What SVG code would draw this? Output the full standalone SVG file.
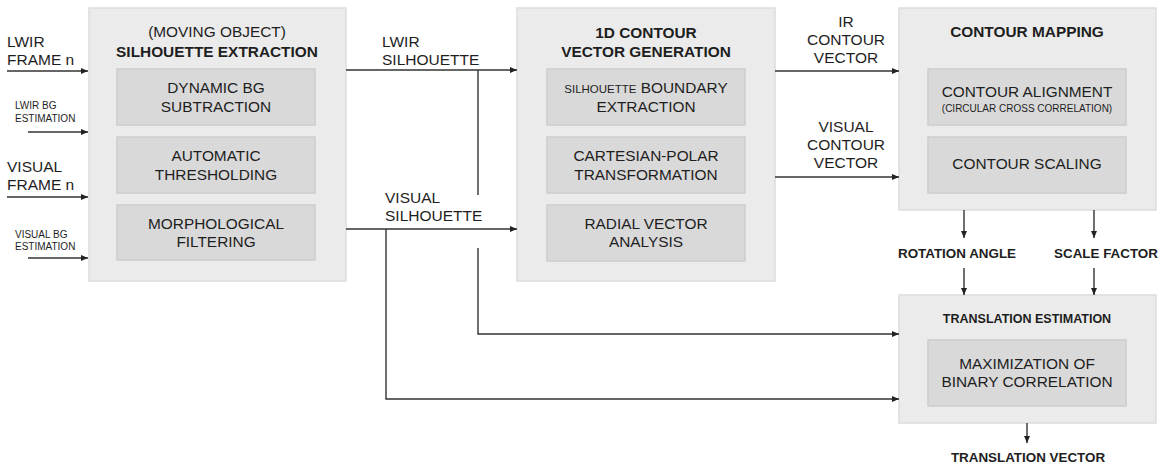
<svg xmlns="http://www.w3.org/2000/svg" width="1164" height="467" viewBox="0 0 1164 467">
<defs>
<style>
text{font-family:"Liberation Sans",Arial,sans-serif;fill:#1e1e1e;}
.outer{fill:#ebebeb;stroke:#dddddd;stroke-width:1.5;}
.inner{fill:#d9d9d9;stroke:#cdcdcd;stroke-width:1.5;}
.t{font-size:15.4px;text-anchor:middle;}
.b{font-size:15.4px;font-weight:bold;text-anchor:middle;}
.lb{font-size:15.5px;}
.sm{font-size:10px;}
.bl{font-size:13.4px;font-weight:bold;text-anchor:middle;}
.c{fill:none;stroke:#333333;stroke-width:1.4;}
.a{marker-end:url(#ah);}
</style>
<marker id="ah" markerWidth="7" markerHeight="6" refX="7" refY="3" orient="auto" markerUnits="userSpaceOnUse">
<path d="M0,0 L7,3 L0,6 z" fill="#222"/>
</marker>
</defs>
<rect width="1164" height="467" fill="#ffffff"/>

<g id="silhouette-extraction">
<rect class="outer" x="89" y="8" width="257" height="273"/>
<text class="t" x="217" y="37">(MOVING OBJECT)</text>
<text class="b" x="217" y="57">SILHOUETTE EXTRACTION</text>
<g id="dynamic-bg">
<rect class="inner" x="117" y="69" width="198" height="56"/>
<text class="t" x="216" y="93">DYNAMIC BG</text>
<text class="t" x="216" y="112">SUBTRACTION</text>
</g>
<g id="auto-threshold">
<rect class="inner" x="117" y="137" width="198" height="56"/>
<text class="t" x="216" y="161">AUTOMATIC</text>
<text class="t" x="216" y="180">THRESHOLDING</text>
</g>
<g id="morph-filter">
<rect class="inner" x="117" y="205" width="198" height="55"/>
<text class="t" x="216" y="229">MORPHOLOGICAL</text>
<text class="t" x="216" y="247">FILTERING</text>
</g>
</g>

<g id="contour-vector-generation">
<rect class="outer" x="517" y="8" width="258" height="273"/>
<text class="b" x="646" y="38">1D CONTOUR</text>
<text class="b" x="646" y="57">VECTOR GENERATION</text>
<g id="boundary-extraction">
<rect class="inner" x="547" y="69" width="198" height="56"/>
<text class="t" x="646" y="93"><tspan font-size="11.5px">SILHOUETTE</tspan> BOUNDARY</text>
<text class="t" x="646" y="112">EXTRACTION</text>
</g>
<g id="cartesian-polar">
<rect class="inner" x="547" y="137" width="198" height="56"/>
<text class="t" x="646" y="161">CARTESIAN-POLAR</text>
<text class="t" x="646" y="180">TRANSFORMATION</text>
</g>
<g id="radial-vector">
<rect class="inner" x="547" y="205" width="198" height="56"/>
<text class="t" x="646" y="229">RADIAL VECTOR</text>
<text class="t" x="646" y="247">ANALYSIS</text>
</g>
</g>

<g id="contour-mapping">
<rect class="outer" x="899" y="8" width="257" height="202"/>
<text class="b" x="1027" y="37">CONTOUR MAPPING</text>
<g id="contour-alignment">
<rect class="inner" x="928" y="69" width="198" height="56"/>
<text class="t" x="1027" y="97">CONTOUR ALIGNMENT</text>
<text class="t" x="1027" y="112" style="font-size:10px">(CIRCULAR CROSS CORRELATION)</text>
</g>
<g id="contour-scaling">
<rect class="inner" x="928" y="137" width="198" height="56"/>
<text class="t" x="1027" y="169">CONTOUR SCALING</text>
</g>
</g>

<g id="translation-estimation">
<rect class="outer" x="899" y="295" width="257" height="128"/>
<text class="bl" x="1027" y="323" style="font-size:12.5px">TRANSLATION ESTIMATION</text>
<g id="binary-correlation">
<rect class="inner" x="928" y="340" width="198" height="66"/>
<text class="t" x="1027" y="369">MAXIMIZATION OF</text>
<text class="t" x="1027" y="387">BINARY CORRELATION</text>
</g>
</g>

<g id="connectors">
<path class="c a" d="M7,71 H88"/>
<path class="c a" d="M28,132 H88"/>
<path class="c a" d="M7,197 H88"/>
<path class="c a" d="M28,258 H88"/>
<path class="c a" d="M346,70 H517"/>
<path class="c" d="M478,70 V195"/>
<path class="c a" d="M478,248 V334 H899"/>
<path class="c a" d="M346,229 H517"/>
<path class="c a" d="M386,229 V399 H899"/>
<path class="c a" d="M775,71 H899"/>
<path class="c a" d="M775,177 H899"/>
<path class="c a" d="M964,210 V238"/>
<path class="c a" d="M1094,210 V238"/>
<path class="c a" d="M964,268 V295"/>
<path class="c a" d="M1094,268 V295"/>
<path class="c a" d="M1027,423 V443"/>
</g>

<g id="labels">
<text class="lb" x="7" y="47">LWIR</text>
<text class="lb" x="7" y="65">FRAME n</text>
<text class="sm" x="15" y="109">LWIR BG</text>
<text class="sm" x="15" y="122">ESTIMATION</text>
<text class="lb" x="7" y="172">VISUAL</text>
<text class="lb" x="7" y="190">FRAME n</text>
<text class="sm" x="15" y="238">VISUAL BG</text>
<text class="sm" x="15" y="250">ESTIMATION</text>
<text class="lb" x="382" y="47">LWIR</text>
<text class="lb" x="382" y="65">SILHOUETTE</text>
<text class="lb" x="385" y="203">VISUAL</text>
<text class="lb" x="385" y="221">SILHOUETTE</text>
<text class="lb" x="846" y="27" text-anchor="middle">IR</text>
<text class="lb" x="846" y="45" text-anchor="middle">CONTOUR</text>
<text class="lb" x="846" y="63" text-anchor="middle">VECTOR</text>
<text class="lb" x="846" y="132" text-anchor="middle">VISUAL</text>
<text class="lb" x="846" y="150" text-anchor="middle">CONTOUR</text>
<text class="lb" x="846" y="168" text-anchor="middle">VECTOR</text>
<text class="bl" x="957" y="258">ROTATION ANGLE</text>
<text class="bl" x="1106" y="258">SCALE FACTOR</text>
<text class="bl" x="1028" y="462">TRANSLATION VECTOR</text>
</g>
</svg>
